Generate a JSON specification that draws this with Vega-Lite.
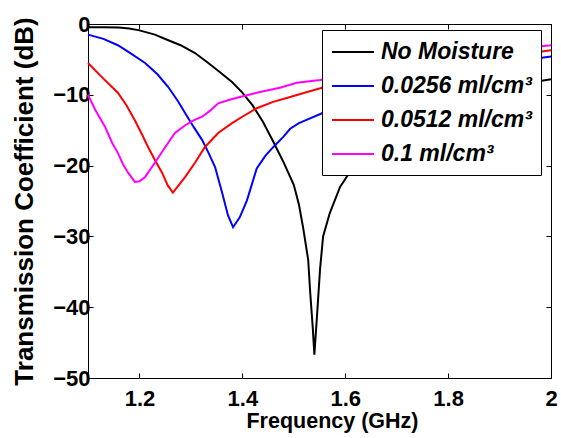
{
  "$schema": "https://vega.github.io/schema/vega-lite/v6.json",
  "width": 463,
  "height": 354,
  "autosize": {"type": "none"},
  "padding": {"left": 88, "top": 24, "right": 10, "bottom": 60},
  "background": "white",
  "config": {
    "font": "Liberation Sans",
    "view": {"stroke": "black", "strokeWidth": 1},
    "axis": {
      "grid": false,
      "domainColor": "black",
      "domainWidth": 1,
      "tickColor": "black",
      "tickSize": -5,
      "tickWidth": 1,
      "labelFont": "Liberation Sans",
      "labelFontSize": 22,
      "labelFontWeight": "bold",
      "labelColor": "black",
      "labelFlush": false,
      "labelOverlap": false,
      "titleFont": "Liberation Sans",
      "titleFontWeight": "bold",
      "titleColor": "black"
    }
  },
  "data": {"values": [
    {"f": 1.10, "s": -0.45, "series": "No Moisture"},
    {"f": 1.13, "s": -0.45, "series": "No Moisture"},
    {"f": 1.16, "s": -0.5, "series": "No Moisture"},
    {"f": 1.18, "s": -0.65, "series": "No Moisture"},
    {"f": 1.20, "s": -0.9, "series": "No Moisture"},
    {"f": 1.23, "s": -1.5, "series": "No Moisture"},
    {"f": 1.256, "s": -2.3, "series": "No Moisture"},
    {"f": 1.28, "s": -3.0, "series": "No Moisture"},
    {"f": 1.308, "s": -4.1, "series": "No Moisture"},
    {"f": 1.33, "s": -5.3, "series": "No Moisture"},
    {"f": 1.353, "s": -6.6, "series": "No Moisture"},
    {"f": 1.38, "s": -8.2, "series": "No Moisture"},
    {"f": 1.40, "s": -9.7, "series": "No Moisture"},
    {"f": 1.42, "s": -11.5, "series": "No Moisture"},
    {"f": 1.44, "s": -13.8, "series": "No Moisture"},
    {"f": 1.46, "s": -16.6, "series": "No Moisture"},
    {"f": 1.48, "s": -19.5, "series": "No Moisture"},
    {"f": 1.50, "s": -22.7, "series": "No Moisture"},
    {"f": 1.51, "s": -25.5, "series": "No Moisture"},
    {"f": 1.518, "s": -28.7, "series": "No Moisture"},
    {"f": 1.528, "s": -33.3, "series": "No Moisture"},
    {"f": 1.532, "s": -38, "series": "No Moisture"},
    {"f": 1.537, "s": -43, "series": "No Moisture"},
    {"f": 1.540, "s": -46.7, "series": "No Moisture"},
    {"f": 1.545, "s": -41.4, "series": "No Moisture"},
    {"f": 1.551, "s": -34.7, "series": "No Moisture"},
    {"f": 1.557, "s": -30, "series": "No Moisture"},
    {"f": 1.57, "s": -26.7, "series": "No Moisture"},
    {"f": 1.59, "s": -23, "series": "No Moisture"},
    {"f": 1.61, "s": -20.8, "series": "No Moisture"},
    {"f": 1.65, "s": -17.3, "series": "No Moisture"},
    {"f": 1.70, "s": -14.6, "series": "No Moisture"},
    {"f": 1.75, "s": -12.6, "series": "No Moisture"},
    {"f": 1.80, "s": -11.1, "series": "No Moisture"},
    {"f": 1.85, "s": -10.0, "series": "No Moisture"},
    {"f": 1.90, "s": -9.1, "series": "No Moisture"},
    {"f": 1.95, "s": -8.4, "series": "No Moisture"},
    {"f": 2.00, "s": -7.8, "series": "No Moisture"},

    {"f": 1.10, "s": -1.5, "series": "0.0256 ml/cm³"},
    {"f": 1.13, "s": -2.1, "series": "0.0256 ml/cm³"},
    {"f": 1.158, "s": -3.0, "series": "0.0256 ml/cm³"},
    {"f": 1.18, "s": -4.0, "series": "0.0256 ml/cm³"},
    {"f": 1.211, "s": -5.5, "series": "0.0256 ml/cm³"},
    {"f": 1.235, "s": -7.1, "series": "0.0256 ml/cm³"},
    {"f": 1.256, "s": -8.9, "series": "0.0256 ml/cm³"},
    {"f": 1.275, "s": -10.9, "series": "0.0256 ml/cm³"},
    {"f": 1.289, "s": -12.6, "series": "0.0256 ml/cm³"},
    {"f": 1.305, "s": -14.5, "series": "0.0256 ml/cm³"},
    {"f": 1.322, "s": -16.4, "series": "0.0256 ml/cm³"},
    {"f": 1.335, "s": -18.3, "series": "0.0256 ml/cm³"},
    {"f": 1.347, "s": -20.2, "series": "0.0256 ml/cm³"},
    {"f": 1.361, "s": -23.9, "series": "0.0256 ml/cm³"},
    {"f": 1.372, "s": -27, "series": "0.0256 ml/cm³"},
    {"f": 1.382, "s": -28.7, "series": "0.0256 ml/cm³"},
    {"f": 1.395, "s": -27.3, "series": "0.0256 ml/cm³"},
    {"f": 1.409, "s": -24.9, "series": "0.0256 ml/cm³"},
    {"f": 1.428, "s": -20.4, "series": "0.0256 ml/cm³"},
    {"f": 1.445, "s": -18.6, "series": "0.0256 ml/cm³"},
    {"f": 1.46, "s": -17.4, "series": "0.0256 ml/cm³"},
    {"f": 1.48, "s": -15.9, "series": "0.0256 ml/cm³"},
    {"f": 1.493, "s": -14.8, "series": "0.0256 ml/cm³"},
    {"f": 1.51, "s": -14.0, "series": "0.0256 ml/cm³"},
    {"f": 1.526, "s": -13.5, "series": "0.0256 ml/cm³"},
    {"f": 1.555, "s": -12.6, "series": "0.0256 ml/cm³"},
    {"f": 1.60, "s": -11.3, "series": "0.0256 ml/cm³"},
    {"f": 1.65, "s": -10.0, "series": "0.0256 ml/cm³"},
    {"f": 1.70, "s": -9.0, "series": "0.0256 ml/cm³"},
    {"f": 1.75, "s": -8.0, "series": "0.0256 ml/cm³"},
    {"f": 1.80, "s": -7.2, "series": "0.0256 ml/cm³"},
    {"f": 1.85, "s": -6.4, "series": "0.0256 ml/cm³"},
    {"f": 1.90, "s": -5.7, "series": "0.0256 ml/cm³"},
    {"f": 1.95, "s": -5.1, "series": "0.0256 ml/cm³"},
    {"f": 2.00, "s": -4.6, "series": "0.0256 ml/cm³"},

    {"f": 1.10, "s": -5.5, "series": "0.0512 ml/cm³"},
    {"f": 1.127, "s": -7.5, "series": "0.0512 ml/cm³"},
    {"f": 1.158, "s": -9.7, "series": "0.0512 ml/cm³"},
    {"f": 1.175, "s": -11.5, "series": "0.0512 ml/cm³"},
    {"f": 1.191, "s": -13.6, "series": "0.0512 ml/cm³"},
    {"f": 1.205, "s": -15.6, "series": "0.0512 ml/cm³"},
    {"f": 1.217, "s": -17.4, "series": "0.0512 ml/cm³"},
    {"f": 1.23, "s": -19.2, "series": "0.0512 ml/cm³"},
    {"f": 1.244, "s": -21.0, "series": "0.0512 ml/cm³"},
    {"f": 1.255, "s": -22.8, "series": "0.0512 ml/cm³"},
    {"f": 1.265, "s": -23.8, "series": "0.0512 ml/cm³"},
    {"f": 1.275, "s": -22.9, "series": "0.0512 ml/cm³"},
    {"f": 1.289, "s": -21.6, "series": "0.0512 ml/cm³"},
    {"f": 1.308, "s": -19.6, "series": "0.0512 ml/cm³"},
    {"f": 1.327, "s": -17.4, "series": "0.0512 ml/cm³"},
    {"f": 1.353, "s": -15.4, "series": "0.0512 ml/cm³"},
    {"f": 1.38, "s": -14.0, "series": "0.0512 ml/cm³"},
    {"f": 1.40, "s": -13.1, "series": "0.0512 ml/cm³"},
    {"f": 1.428, "s": -11.9, "series": "0.0512 ml/cm³"},
    {"f": 1.46, "s": -11.0, "series": "0.0512 ml/cm³"},
    {"f": 1.493, "s": -10.3, "series": "0.0512 ml/cm³"},
    {"f": 1.526, "s": -9.6, "series": "0.0512 ml/cm³"},
    {"f": 1.555, "s": -9.0, "series": "0.0512 ml/cm³"},
    {"f": 1.60, "s": -8.4, "series": "0.0512 ml/cm³"},
    {"f": 1.65, "s": -7.8, "series": "0.0512 ml/cm³"},
    {"f": 1.70, "s": -7.1, "series": "0.0512 ml/cm³"},
    {"f": 1.75, "s": -6.5, "series": "0.0512 ml/cm³"},
    {"f": 1.80, "s": -5.9, "series": "0.0512 ml/cm³"},
    {"f": 1.85, "s": -5.3, "series": "0.0512 ml/cm³"},
    {"f": 1.90, "s": -4.7, "series": "0.0512 ml/cm³"},
    {"f": 1.95, "s": -4.2, "series": "0.0512 ml/cm³"},
    {"f": 2.00, "s": -3.7, "series": "0.0512 ml/cm³"},

    {"f": 1.10, "s": -10.0, "series": "0.1 ml/cm³"},
    {"f": 1.114, "s": -12.1, "series": "0.1 ml/cm³"},
    {"f": 1.133, "s": -14.5, "series": "0.1 ml/cm³"},
    {"f": 1.147, "s": -16.8, "series": "0.1 ml/cm³"},
    {"f": 1.158, "s": -18.2, "series": "0.1 ml/cm³"},
    {"f": 1.168, "s": -19.8, "series": "0.1 ml/cm³"},
    {"f": 1.178, "s": -21.0, "series": "0.1 ml/cm³"},
    {"f": 1.191, "s": -22.3, "series": "0.1 ml/cm³"},
    {"f": 1.20, "s": -22.2, "series": "0.1 ml/cm³"},
    {"f": 1.211, "s": -21.6, "series": "0.1 ml/cm³"},
    {"f": 1.23, "s": -19.6, "series": "0.1 ml/cm³"},
    {"f": 1.25, "s": -17.4, "series": "0.1 ml/cm³"},
    {"f": 1.269, "s": -15.4, "series": "0.1 ml/cm³"},
    {"f": 1.289, "s": -14.3, "series": "0.1 ml/cm³"},
    {"f": 1.305, "s": -13.6, "series": "0.1 ml/cm³"},
    {"f": 1.322, "s": -13.1, "series": "0.1 ml/cm³"},
    {"f": 1.338, "s": -12.2, "series": "0.1 ml/cm³"},
    {"f": 1.353, "s": -11.2, "series": "0.1 ml/cm³"},
    {"f": 1.375, "s": -10.7, "series": "0.1 ml/cm³"},
    {"f": 1.401, "s": -10.2, "series": "0.1 ml/cm³"},
    {"f": 1.434, "s": -9.6, "series": "0.1 ml/cm³"},
    {"f": 1.473, "s": -9.0, "series": "0.1 ml/cm³"},
    {"f": 1.506, "s": -8.3, "series": "0.1 ml/cm³"},
    {"f": 1.551, "s": -7.9, "series": "0.1 ml/cm³"},
    {"f": 1.60, "s": -7.3, "series": "0.1 ml/cm³"},
    {"f": 1.65, "s": -6.7, "series": "0.1 ml/cm³"},
    {"f": 1.70, "s": -6.1, "series": "0.1 ml/cm³"},
    {"f": 1.75, "s": -5.5, "series": "0.1 ml/cm³"},
    {"f": 1.80, "s": -5.0, "series": "0.1 ml/cm³"},
    {"f": 1.85, "s": -4.4, "series": "0.1 ml/cm³"},
    {"f": 1.90, "s": -3.9, "series": "0.1 ml/cm³"},
    {"f": 1.95, "s": -3.4, "series": "0.1 ml/cm³"},
    {"f": 2.00, "s": -3.0, "series": "0.1 ml/cm³"}
  ]},
  "layer": [
    {
      "mark": {"type": "line", "strokeWidth": 2},
      "encoding": {
        "x": {"field": "f", "type": "quantitative",
              "scale": {"domain": [1.1, 2], "nice": false, "zero": false},
              "axis": {"orient": "bottom", "values": [1.2, 1.4, 1.6, 1.8, 2], "format": "~g",
                       "title": "Frequency (GHz)", "titleFontSize": 21.5, "titleX": 244,
                       "labelPadding": 15, "titlePadding": 1}},
        "y": {"field": "s", "type": "quantitative",
              "scale": {"domain": [-50, 0], "nice": false, "zero": false},
              "axis": {"orient": "left", "values": [0, -10, -20, -30, -40, -50],
                       "title": "Transmission Coefficient (dB)", "titleFontSize": 26, "labelPadding": 3, "titlePadding": 15}},
        "color": {"field": "series", "type": "nominal",
                  "scale": {"domain": ["No Moisture", "0.0256 ml/cm³", "0.0512 ml/cm³", "0.1 ml/cm³"],
                            "range": ["#000000", "#0000ff", "#ff0000", "#ff00ff"]},
                  "legend": {"orient": "none", "legendX": 234, "legendY": 6, "title": null,
                             "symbolType": "M-1.75,0H1.75", "symbolSize": 576, "symbolStrokeWidth": 2,
                             "symbolOffset": 9,
                             "labelFont": "Liberation Sans", "labelFontSize": 23, "labelFontWeight": "bold",
                             "labelFontStyle": "italic", "labelColor": "black", "labelOffset": 15, "labelLimit": 400,
                             "strokeColor": "black", "fillColor": "white",
                             "padding": 9, "rowPadding": 9}}
      }
    },
    {
      "mark": {"type": "line", "opacity": 0},
      "encoding": {
        "x": {"field": "f", "type": "quantitative",
              "scale": {"domain": [1.1, 2], "nice": false, "zero": false},
              "axis": {"orient": "top", "values": [1.2, 1.4, 1.6, 1.8, 2], "labels": false, "title": null}},
        "y": {"field": "s", "type": "quantitative",
              "scale": {"domain": [-50, 0], "nice": false, "zero": false},
              "axis": {"orient": "right", "values": [0, -10, -20, -30, -40, -50], "labels": false, "title": null}}
      }
    }
  ],
  "resolve": {"axis": {"x": "independent", "y": "independent"}}
}
